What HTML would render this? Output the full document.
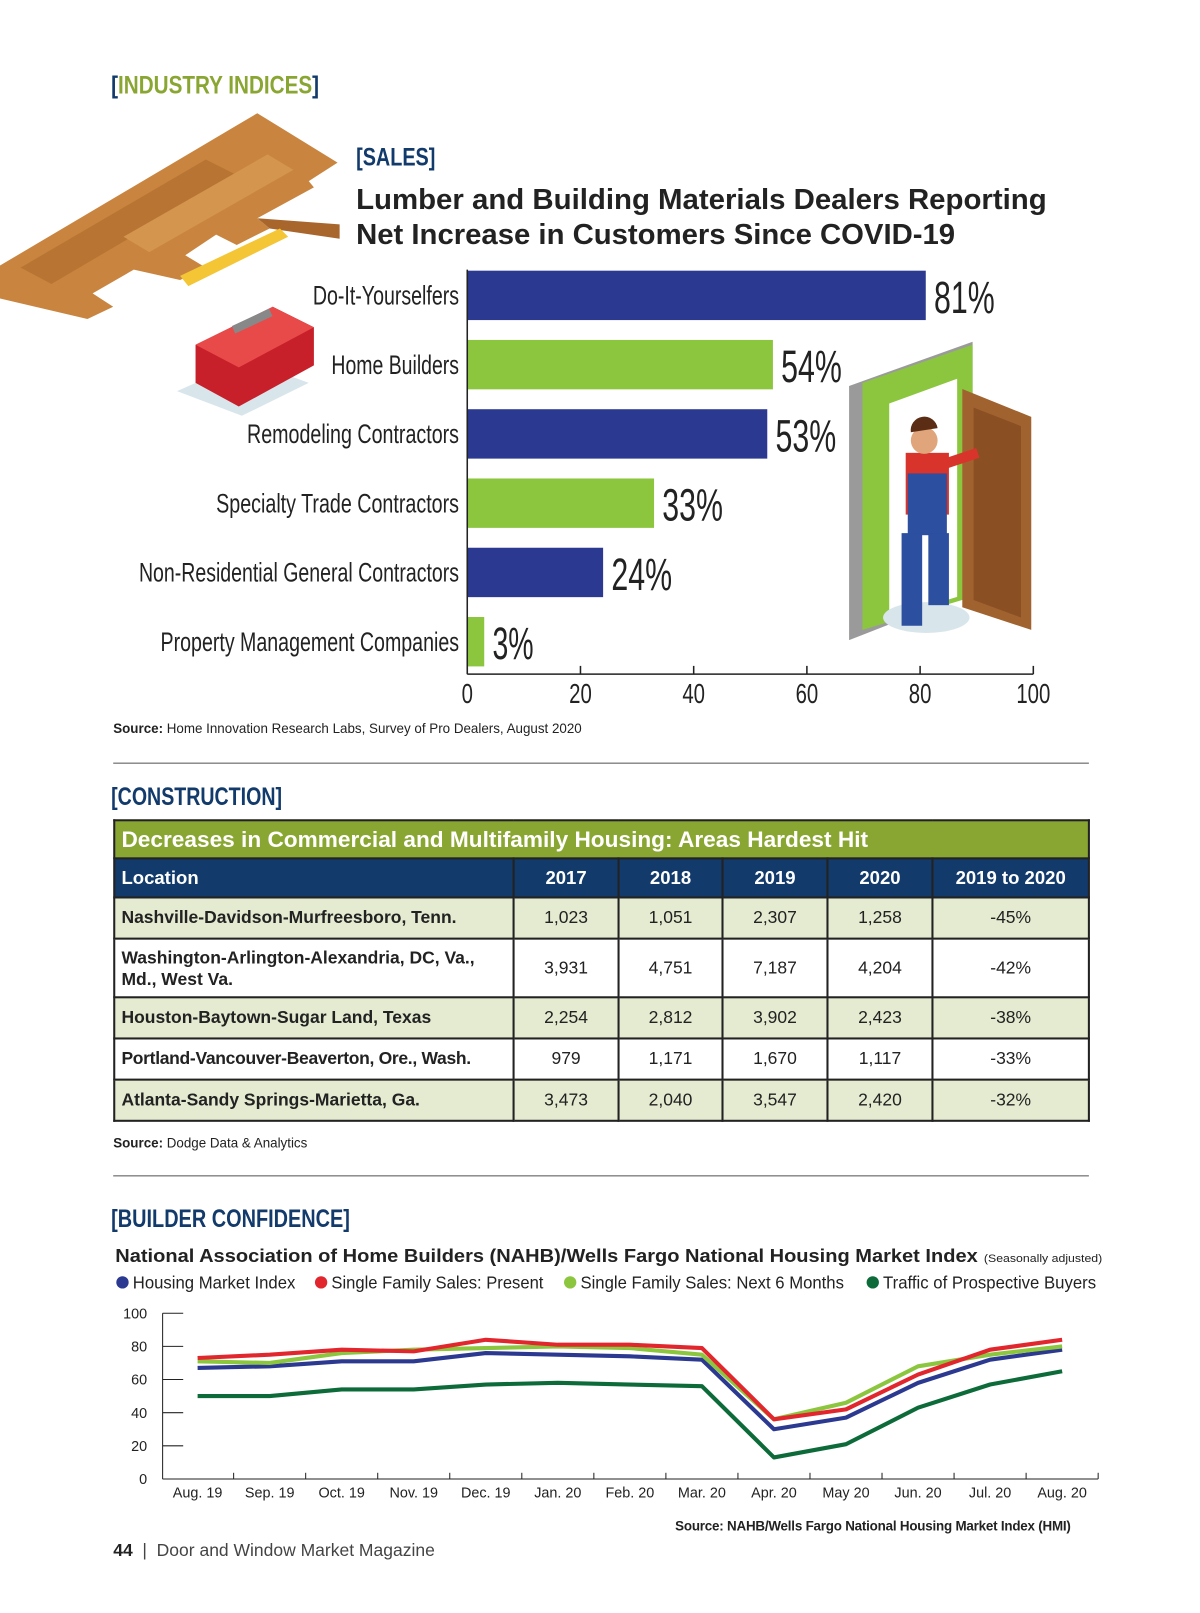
<!DOCTYPE html>
<html><head><meta charset="utf-8">
<style>
body{margin:0;background:#fff;}
#page{position:relative;width:1200px;height:1613px;overflow:hidden;font-family:"Liberation Sans",sans-serif;}
#inner{position:absolute;left:0;top:0;width:1166px;height:1568px;transform:scale(1.0292);transform-origin:0 0;}
table{position:absolute;left:110px;top:796px;width:947px;border-collapse:collapse;font-size:17px;color:#222;table-layout:fixed;}
td{border:2px solid #222;text-align:center;padding:0 6px;white-space:nowrap;}
td.loc{text-align:left;font-weight:bold;}
tr.g td{background:#e4ebd0;}
tr.title td{background:#8aa632;color:#fff;font-weight:bold;font-size:22px;text-align:left;height:35px;}
tr.head td{background:#123a6b;color:#fff;font-weight:bold;font-size:18px;height:36px;}
</style></head><body>
<div id="page">
<div id="inner">
<svg width="1166" height="1568" style="position:absolute;left:0;top:0">
  <text x="108" y="91" font-size="24" font-weight="bold" fill="#8aa632" textLength="202" lengthAdjust="spacingAndGlyphs"><tspan fill="#123a6b">[</tspan>INDUSTRY INDICES<tspan fill="#123a6b">]</tspan></text>
  <g>
    <polygon points="0,258 250,110 328,158 300,176 305,182 250,212 262,222 230,238 210,228 180,248 200,260 175,272 130,262 90,285 110,298 85,310 0,290" fill="#c9853f"/>
    <polygon points="20,260 200,155 230,170 50,276" fill="#b87433"/>
    <polygon points="120,230 260,150 285,165 145,245" fill="#d4954e"/>
    <polygon points="250,212 330,218 330,232 262,222" fill="#a8662c"/>
    <polygon points="175,268 272,222 280,230 183,278" fill="#f4c534"/>
    <polygon points="172,380 240,350 300,372 235,404" fill="#d8e6ec"/>
    <polygon points="190,335 265,298 305,318 305,355 232,395 190,372" fill="#c8202a"/>
    <polygon points="190,335 265,298 305,318 232,357" fill="#e84a4a"/>
    <rect x="225" y="308" width="40" height="8" fill="#888" transform="rotate(-25 245 312)"/>
  </g>
  <text x="346" y="161" font-size="24" font-weight="bold" fill="#123a6b" textLength="77" lengthAdjust="spacingAndGlyphs">[SALES]</text>
  <text x="346" y="203" font-size="28" font-weight="bold" fill="#222" textLength="671" lengthAdjust="spacingAndGlyphs">Lumber and Building Materials Dealers Reporting</text>
  <text x="346" y="237" font-size="28" font-weight="bold" fill="#222" textLength="582" lengthAdjust="spacingAndGlyphs">Net Increase in Customers Since COVID-19</text>
  <g>
    <polygon points="825,375 945,332 945,575 825,622" fill="#9a9a9a"/>
    <polygon points="838,372 945,335 945,580 838,612" fill="#8cc63f"/>
    <polygon points="864,392 930,368 930,580 864,600" fill="#fff"/>
    <ellipse cx="900" cy="600" rx="42" ry="15" fill="#d8e6ec"/>
    <polygon points="935,378 1002,405 1002,612 935,590" fill="#a0622e"/>
    <polygon points="946,396 992,414 992,600 946,583" fill="#8a4f22"/>
    <rect x="880" y="440" width="42" height="60" fill="#d9342b"/>
    <rect x="882" y="460" width="38" height="60" fill="#2d4fa0"/>
    <rect x="876" y="518" width="20" height="90" fill="#2d4fa0"/>
    <rect x="902" y="518" width="20" height="70" fill="#2d4fa0"/>
    <circle cx="898" cy="428" r="13" fill="#e0a57a"/>
    <path d="M885,420 a13,13 0 0 1 26,-4 z" fill="#5a2d14"/>
    <line x1="920" y1="450" x2="950" y2="440" stroke="#d9342b" stroke-width="10"/>
  </g>
</svg>
<svg id="bars" width="1166" height="720" style="position:absolute;left:0;top:0"></svg>
<div style="position:absolute;left:110px;top:700px;font-size:13px;font-weight:bold;color:#222">Source: <span style="font-weight:normal">Home Innovation Research Labs, Survey of Pro Dealers, August 2020</span></div>
<div style="position:absolute;left:110px;top:741px;width:948px;height:1px;background:#555"></div>
<svg width="400" height="40" style="position:absolute;left:0;top:760px"><text x="108" y="22" font-size="24" font-weight="bold" fill="#123a6b" textLength="166" lengthAdjust="spacingAndGlyphs">[CONSTRUCTION]</text></svg>
<table>
<colgroup><col style="width:388px"><col style="width:102px"><col style="width:101px"><col style="width:102px"><col style="width:102px"><col style="width:152px"></colgroup>
<tr class="title"><td colspan="6">Decreases in Commercial and Multifamily Housing: Areas Hardest Hit</td></tr>
<tr class="head"><td class="loc">Location</td><td>2017</td><td>2018</td><td>2019</td><td>2020</td><td>2019 to 2020</td></tr>
<tr class="g" style="height:40px"><td class="loc">Nashville-Davidson-Murfreesboro, Tenn.</td><td>1,023</td><td>1,051</td><td>2,307</td><td>1,258</td><td>-45%</td></tr>
<tr style="height:57px"><td class="loc" style="line-height:21px">Washington-Arlington-Alexandria, DC, Va.,<br>Md., West Va.</td><td>3,931</td><td>4,751</td><td>7,187</td><td>4,204</td><td>-42%</td></tr>
<tr class="g" style="height:40px"><td class="loc">Houston-Baytown-Sugar Land, Texas</td><td>2,254</td><td>2,812</td><td>3,902</td><td>2,423</td><td>-38%</td></tr>
<tr style="height:40px"><td class="loc" style="letter-spacing:-0.3px">Portland-Vancouver-Beaverton, Ore., Wash.</td><td>979</td><td>1,171</td><td>1,670</td><td>1,117</td><td>-33%</td></tr>
<tr class="g" style="height:40px"><td class="loc">Atlanta-Sandy Springs-Marietta, Ga.</td><td>3,473</td><td>2,040</td><td>3,547</td><td>2,420</td><td>-32%</td></tr>
</table>
<div style="position:absolute;left:110px;top:1103px;font-size:13px;font-weight:bold;color:#222">Source: <span style="font-weight:normal">Dodge Data &amp; Analytics</span></div>
<div style="position:absolute;left:110px;top:1142px;width:948px;height:1px;background:#555"></div>
<svg width="400" height="40" style="position:absolute;left:0;top:1170px"><text x="108" y="22" font-size="24" font-weight="bold" fill="#123a6b" textLength="232" lengthAdjust="spacingAndGlyphs">[BUILDER CONFIDENCE]</text></svg>
<svg width="1166" height="40" style="position:absolute;left:0;top:1205px"><text x="112" y="21" font-size="18" font-weight="bold" fill="#222" textLength="838" lengthAdjust="spacingAndGlyphs">National Association of Home Builders (NAHB)/Wells Fargo National Housing Market Index</text><text x="956" y="21" font-size="11" fill="#222" textLength="115" lengthAdjust="spacingAndGlyphs">(Seasonally adjusted)</text></svg>
<svg id="lines" width="1166" height="1568" style="position:absolute;left:0;top:0"></svg>
<div style="position:absolute;left:656px;top:1475px;font-size:13px;font-weight:bold;color:#222;letter-spacing:-0.2px">Source: NAHB/Wells Fargo National Housing Market Index (HMI)</div>
<div style="position:absolute;left:110px;top:1497px;font-size:17px;color:#444"><b style="color:#222">44</b> &nbsp;|&nbsp; Door and Window Market Magazine</div>
</div>
</div>
<script>
const NS="http://www.w3.org/2000/svg";
function mk(p,t,a,txt){const e=document.createElementNS(NS,t);for(const k in a)e.setAttribute(k,a[k]);if(txt!==undefined)e.textContent=txt;p.appendChild(e);return e;}
// ---- bar chart data ----
const barCategories=["Do-It-Yourselfers","Home Builders","Remodeling Contractors","Specialty Trade Contractors","Non-Residential General Contractors","Property Management Companies"];
const barValues=[81,54,53,33,24,3];
const barTicks=[0,20,40,60,80,100];
const labelWidths=[142,124,206,236,311,290];
const bs=document.getElementById('bars');
const bx=v=>454+v*5.5, by=i=>287+i*67.3;
barCategories.forEach((c,i)=>{
  const r=mk(bs,'rect',{x:bx(0),y:by(i)-24,width:bx(barValues[i])-bx(0),height:48,fill:i%2?'#8cc63f':'#2b3990'});
  
  
  const t=mk(bs,'text',{x:446-labelWidths[i],y:by(i)+9,'font-size':26,fill:'#222',textLength:labelWidths[i],lengthAdjust:'spacingAndGlyphs'},c);
  
  
  const vs=String(barValues[i]).length===1?40:59;
  const v=mk(bs,'text',{x:bx(barValues[i])+8,y:by(i)+17,'font-size':44,fill:'#222',textLength:vs,lengthAdjust:'spacingAndGlyphs'},barValues[i]+'%');
  
  
});
mk(bs,'line',{x1:bx(0),x2:bx(100),y1:655,y2:655,stroke:'#222','stroke-width':1.5});
barTicks.forEach(t=>{
  mk(bs,'line',{x1:bx(t),x2:bx(t),y1:647,y2:655,stroke:'#222','stroke-width':1.5});
  const w=String(t).length*11;
  const e=mk(bs,'text',{x:bx(t)-w/2,y:683,'font-size':27,fill:'#222',textLength:w,lengthAdjust:'spacingAndGlyphs'},t);
  
  
});
mk(bs,'line',{x1:bx(0),x2:bx(0),y1:262,y2:655,stroke:'#222','stroke-width':1.5});
// ---- line chart data ----
const months=["Aug. 19","Sep. 19","Oct. 19","Nov. 19","Dec. 19","Jan. 20","Feb. 20","Mar. 20","Apr. 20","May 20","Jun. 20","Jul. 20","Aug. 20"];
const hmi=[67,68,71,71,76,75,74,72,30,37,58,72,78];
const salesPresent=[73,75,78,77,84,81,81,79,36,42,63,78,84];
const salesNext6=[71,70,76,78,79,80,79,75,36,46,68,75,80];
const traffic=[50,50,54,54,57,58,57,56,13,21,43,57,65];
const yTicks=[0,20,40,60,80,100];
const seriesNames=["Housing Market Index","Single Family Sales: Present","Single Family Sales: Next 6 Months","Traffic of Prospective Buyers"];
const ls=document.getElementById('lines');
const lx=i=>192+i*70, ly=v=>1437-v*1.61;
const series=[[hmi,'#2b3990'],[salesNext6,'#8cc63f'],[salesPresent,'#e1262d'],[traffic,'#0d6b3a']];
mk(ls,'line',{x1:158,x2:158,y1:ly(100),y2:ly(0),stroke:'#222','stroke-width':1});
mk(ls,'line',{x1:158,x2:1067,y1:ly(0),y2:ly(0),stroke:'#222','stroke-width':1});
yTicks.forEach(t=>{
  mk(ls,'line',{x1:158,x2:178,y1:ly(t),y2:ly(t),stroke:'#222','stroke-width':1});
  const e=mk(ls,'text',{x:143,y:ly(t)+5,'text-anchor':'end','font-size':14,fill:'#222'},t);
  
  
});
months.forEach((m,i)=>{
  mk(ls,'line',{x1:lx(i)+35,x2:lx(i)+35,y1:ly(0),y2:ly(0)-6,stroke:'#222','stroke-width':1});
  const e=mk(ls,'text',{x:lx(i),y:1455,'text-anchor':'middle','font-size':14,fill:'#222'},m);
  
  
});
series.forEach(([d,c],k)=>{
  const p=mk(ls,'polyline',{points:d.map((v,i)=>lx(i)+','+ly(v)).join(' '),fill:'none',stroke:c,'stroke-width':4,'stroke-linejoin':'round'});
  
  
});
const legX=[113,306,548,842], legW=[158,206,256,207], legC=['#2b3990','#e1262d','#8cc63f','#0d6b3a'];
seriesNames.forEach((n,i)=>{
  mk(ls,'circle',{cx:legX[i]+6,cy:1246,r:6,fill:legC[i]});
  const e=mk(ls,'text',{x:legX[i]+16,y:1252,'font-size':17,fill:'#222',textLength:legW[i],lengthAdjust:'spacingAndGlyphs'},n);
  
  
});
</script>
</body></html>
